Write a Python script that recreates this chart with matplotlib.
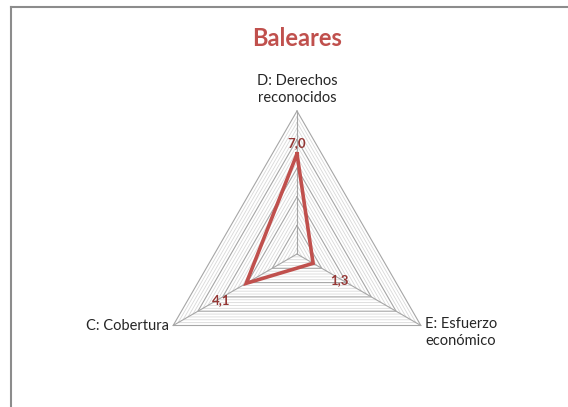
import matplotlib.pyplot as plt
import numpy as np

categories = ["D: Derechos\nreconocidos", "E: Esfuerzo\neconómico", "C: Cobertura"]
values = [7.0, 1.3, 4.1]
value_labels = ["7,0", "1,3", "4,1"]
title = "Baleares"

scale_max = 10
major_step = 2
minor_step = 0.4

plt.rcParams['font.family'] = ['Lato', 'DejaVu Sans']

W, H = 568, 407
fig = plt.figure(figsize=(W / 100, H / 100), dpi=100)
ax = fig.add_axes([0, 0, 1, 1])

# pixel geometry of the plot area
cx, cy, R = 297, 254, 143
px = R / scale_max
ax.set_xlim(-cx / px, (W - cx) / px)
ax.set_ylim(-(H - cy) / px, cy / px)
ax.axis('off')

# clockwise from the top
angles = np.deg2rad(90 - np.arange(len(categories)) * 360 / len(categories))
ux, uy = np.cos(angles), np.sin(angles)


def ring(r):
    return np.append(ux * r, ux[0] * r), np.append(uy * r, uy[0] * r)


# minor grid
for r in np.arange(minor_step, scale_max + 1e-9, minor_step):
    if abs(r / major_step - round(r / major_step)) < 1e-6:
        continue
    x, y = ring(r)
    ax.plot(x, y, color='#d9d9d9', lw=0.6, zorder=1)
# major grid
for r in np.arange(major_step, scale_max + 1e-9, major_step):
    x, y = ring(r)
    ax.plot(x, y, color='#a6a6a6', lw=0.8, zorder=2)
# spokes
for a, b in zip(ux, uy):
    ax.plot([0, a * scale_max], [0, b * scale_max], color='#a6a6a6', lw=0.8, zorder=2)

# series
vx = ux * np.array(values)
vy = uy * np.array(values)
ax.plot(np.append(vx, vx[0]), np.append(vy, vy[0]), color='#c0504d', lw=2.6,
        solid_joinstyle='miter', zorder=3)

# data labels
label_offsets = [(0, 8), (19, -12), (-18, -12)]
for x, y, t, off in zip(vx, vy, value_labels, label_offsets):
    ax.annotate(t, (x, y), xytext=off, textcoords='offset points',
                ha='center', va='center', fontsize=9.5, fontweight='bold',
                color='#953735', zorder=4)

# category labels
cat_style = [
    dict(xytext=(0, 4), ha='center', va='bottom'),
    dict(xytext=(3, 6), ha='left', va='top'),
    dict(xytext=(-3, 0), ha='right', va='center'),
]
for a, b, name, st in zip(ux, uy, categories, cat_style):
    ax.annotate(name, (a * scale_max, b * scale_max), textcoords='offset points',
                fontsize=10.5, color='#262626', linespacing=1.3, **st)

fig.text(297 / W, 1 - 39 / H, title, ha='center', va='center',
         fontsize=17, fontweight='bold', color='#c0504d')

# chart frame (only top and left edges fall inside the image)
fig.add_artist(plt.Line2D([11 / W, 1.0], [1 - 7 / H, 1 - 7 / H],
                          transform=fig.transFigure, color='#8c8c8c', lw=1.5))
fig.add_artist(plt.Line2D([11 / W, 11 / W], [0, 1 - 7 / H],
                          transform=fig.transFigure, color='#8c8c8c', lw=1.5))

fig.savefig('out.png', dpi=100)
